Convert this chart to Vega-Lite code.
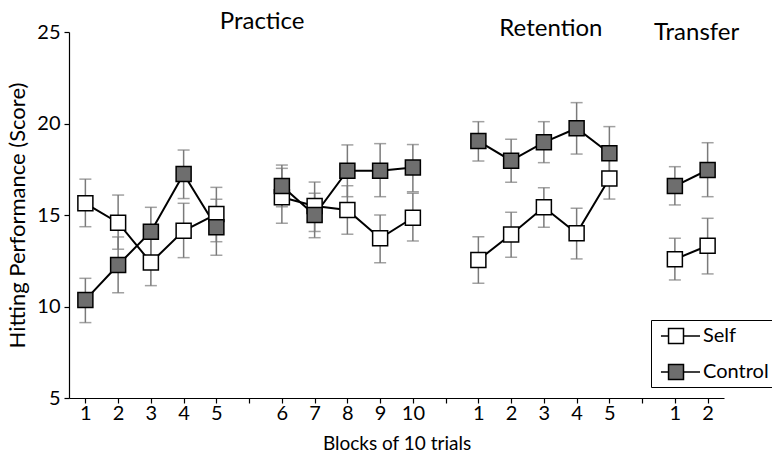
{
  "$schema": "https://vega.github.io/schema/vega-lite/v6.json",
  "autosize": {"type": "none"},
  "padding": {"left": 69, "top": 32, "right": 48, "bottom": 64},
  "width": 655,
  "height": 366,
  "background": "white",
  "config": {
    "view": {"stroke": null},
    "font": "Lato",
    "axis": {
      "grid": false,
      "domainColor": "black",
      "domainWidth": 1.2,
      "tickColor": "black",
      "tickWidth": 1.2,
      "tickSize": 5,
      "labelFont": "Lato",
      "labelFontSize": 20,
      "labelColor": "black",
      "titleFont": "Lato",
      "titleFontSize": 19,
      "titleFontWeight": "normal",
      "titleColor": "black"
    }
  },
  "data": {
    "values": [
      {"group": "Self", "seg": "A", "block": "P1", "mean": 15.64, "lo": 14.36, "hi": 16.96},
      {"group": "Self", "seg": "A", "block": "P2", "mean": 14.58, "lo": 13.13, "hi": 16.09},
      {"group": "Self", "seg": "A", "block": "P3", "mean": 12.4, "lo": 11.14, "hi": 13.7},
      {"group": "Self", "seg": "A", "block": "P4", "mean": 14.14, "lo": 12.67, "hi": 15.64},
      {"group": "Self", "seg": "A", "block": "P5", "mean": 15.05, "lo": 13.54, "hi": 16.51},
      {"group": "Self", "seg": "B", "block": "P6", "mean": 15.97, "lo": 14.55, "hi": 17.55},
      {"group": "Self", "seg": "B", "block": "P7", "mean": 15.49, "lo": 14.1, "hi": 16.8},
      {"group": "Self", "seg": "B", "block": "P8", "mean": 15.27, "lo": 13.95, "hi": 16.6},
      {"group": "Self", "seg": "B", "block": "P9", "mean": 13.73, "lo": 12.39, "hi": 15.0},
      {"group": "Self", "seg": "B", "block": "P10", "mean": 14.85, "lo": 13.58, "hi": 16.19},
      {"group": "Self", "seg": "C", "block": "R1", "mean": 12.54, "lo": 11.27, "hi": 13.81},
      {"group": "Self", "seg": "C", "block": "R2", "mean": 13.94, "lo": 12.69, "hi": 15.15},
      {"group": "Self", "seg": "C", "block": "R3", "mean": 15.42, "lo": 14.33, "hi": 16.49},
      {"group": "Self", "seg": "C", "block": "R4", "mean": 14.0, "lo": 12.6, "hi": 15.37},
      {"group": "Self", "seg": "C", "block": "R5", "mean": 17.0, "lo": 15.87, "hi": 18.13},
      {"group": "Self", "seg": "D", "block": "T1", "mean": 12.58, "lo": 11.45, "hi": 13.73},
      {"group": "Self", "seg": "D", "block": "T2", "mean": 13.32, "lo": 11.78, "hi": 14.82},
      {"group": "Control", "seg": "A", "block": "P1", "mean": 10.36, "lo": 9.12, "hi": 11.54},
      {"group": "Control", "seg": "A", "block": "P2", "mean": 12.27, "lo": 10.75, "hi": 13.8},
      {"group": "Control", "seg": "A", "block": "P3", "mean": 14.09, "lo": 12.7, "hi": 15.42},
      {"group": "Control", "seg": "A", "block": "P4", "mean": 17.24, "lo": 15.9, "hi": 18.55},
      {"group": "Control", "seg": "A", "block": "P5", "mean": 14.33, "lo": 12.8, "hi": 15.86},
      {"group": "Control", "seg": "B", "block": "P6", "mean": 16.58, "lo": 15.45, "hi": 17.73},
      {"group": "Control", "seg": "B", "block": "P7", "mean": 15.0, "lo": 13.76, "hi": 16.19},
      {"group": "Control", "seg": "B", "block": "P8", "mean": 17.42, "lo": 16.0, "hi": 18.83},
      {"group": "Control", "seg": "B", "block": "P9", "mean": 17.42, "lo": 16.0, "hi": 18.9},
      {"group": "Control", "seg": "B", "block": "P10", "mean": 17.6, "lo": 16.27, "hi": 18.85},
      {"group": "Control", "seg": "C", "block": "R1", "mean": 19.04, "lo": 17.95, "hi": 20.1},
      {"group": "Control", "seg": "C", "block": "R2", "mean": 17.97, "lo": 16.79, "hi": 19.14},
      {"group": "Control", "seg": "C", "block": "R3", "mean": 18.97, "lo": 17.86, "hi": 20.1},
      {"group": "Control", "seg": "C", "block": "R4", "mean": 19.74, "lo": 18.33, "hi": 21.14},
      {"group": "Control", "seg": "C", "block": "R5", "mean": 18.37, "lo": 16.9, "hi": 19.83},
      {"group": "Control", "seg": "D", "block": "T1", "mean": 16.58, "lo": 15.55, "hi": 17.64},
      {"group": "Control", "seg": "D", "block": "T2", "mean": 17.46, "lo": 16.0, "hi": 18.95}
    ]
  },
  "encoding": {
    "x": {
      "field": "block",
      "type": "ordinal",
      "scale": {
        "type": "point",
        "padding": 0.5,
        "domain": ["P1", "P2", "P3", "P4", "P5", "x1", "P6", "P7", "P8", "P9", "P10", "x2", "R1", "R2", "R3", "R4", "R5", "x3", "T1", "T2"]
      },
      "axis": {
        "title": "Blocks of 10 trials",
        "labelAngle": 0,
        "labelPadding": 0,
        "titlePadding": 11,
        "labelExpr": "test(/^x/, datum.value) ? '' : substring(datum.value, 1)"
      }
    }
  },
  "layer": [
    {
      "mark": {"type": "rule", "color": "#7a7a7a", "strokeWidth": 1.5},
      "encoding": {
        "y": {"field": "lo", "type": "quantitative"},
        "y2": {"field": "hi"}
      }
    },
    {
      "mark": {"type": "tick", "orient": "horizontal", "color": "#7a7a7a", "size": 12, "thickness": 1.5},
      "encoding": {"y": {"field": "lo", "type": "quantitative"}}
    },
    {
      "mark": {"type": "tick", "orient": "horizontal", "color": "#7a7a7a", "size": 12, "thickness": 1.5},
      "encoding": {"y": {"field": "hi", "type": "quantitative"}}
    },
    {
      "mark": {"type": "line", "color": "black", "strokeWidth": 2},
      "encoding": {
        "y": {"field": "mean", "type": "quantitative"},
        "detail": [{"field": "group"}, {"field": "seg"}],
        "order": {"value": null}
      }
    },
    {
      "mark": {"type": "point", "shape": "square", "filled": true, "stroke": "black", "strokeWidth": 1.5, "size": 225, "opacity": 1},
      "encoding": {
        "y": {
          "field": "mean",
          "type": "quantitative",
          "scale": {"domain": [5, 25], "nice": false, "zero": false},
          "axis": {
            "title": "Hitting Performance (Score)",
            "titleFontSize": 22,
            "values": [5, 10, 15, 20, 25],
            "labelPadding": 4,
            "titlePadding": 7
          }
        },
        "fill": {
          "field": "group",
          "type": "nominal",
          "scale": {"domain": ["Self", "Control"], "range": ["white", "#6e6e6e"]},
          "legend": {
            "title": null,
            "orient": "none",
            "legendX": 582,
            "legendY": 288,
            "strokeColor": "black",
            "fillColor": "white",
            "padding": 4,
            "rowPadding": 13,
            "labelFont": "Lato",
            "labelFontSize": 20,
            "labelColor": "black",
            "labelOffset": 24,
            "symbolType": "M-0.55,0H0.14M1.5,0H3M0.14,-0.68H1.5V0.68H0.14Z",
            "symbolSize": 484,
            "symbolStrokeColor": "black",
            "symbolStrokeWidth": 1.5,
            "symbolOpacity": 1
          }
        }
      }
    },
    {
      "data": {"values": [{"title": "Practice", "at": "x1", "v": 25.55}]},
      "mark": {"type": "text", "font": "Lato", "fontSize": 24, "color": "black", "baseline": "middle", "align": "center", "dx": 13},
      "encoding": {
        "x": {"field": "at", "type": "ordinal"},
        "y": {"field": "v", "type": "quantitative"},
        "text": {"field": "title"}
      }
    },
    {
      "data": {"values": [{"title": "Retention", "at": "R3", "v": 25.16}]},
      "mark": {"type": "text", "font": "Lato", "fontSize": 24, "color": "black", "baseline": "middle", "align": "center", "dx": 7},
      "encoding": {
        "x": {"field": "at", "type": "ordinal"},
        "y": {"field": "v", "type": "quantitative"},
        "text": {"field": "title"}
      }
    },
    {
      "data": {"values": [{"title": "Transfer", "at": "T2", "v": 24.95}]},
      "mark": {"type": "text", "font": "Lato", "fontSize": 24, "color": "black", "baseline": "middle", "align": "center", "dx": -11},
      "encoding": {
        "x": {"field": "at", "type": "ordinal"},
        "y": {"field": "v", "type": "quantitative"},
        "text": {"field": "title"}
      }
    }
  ]
}
